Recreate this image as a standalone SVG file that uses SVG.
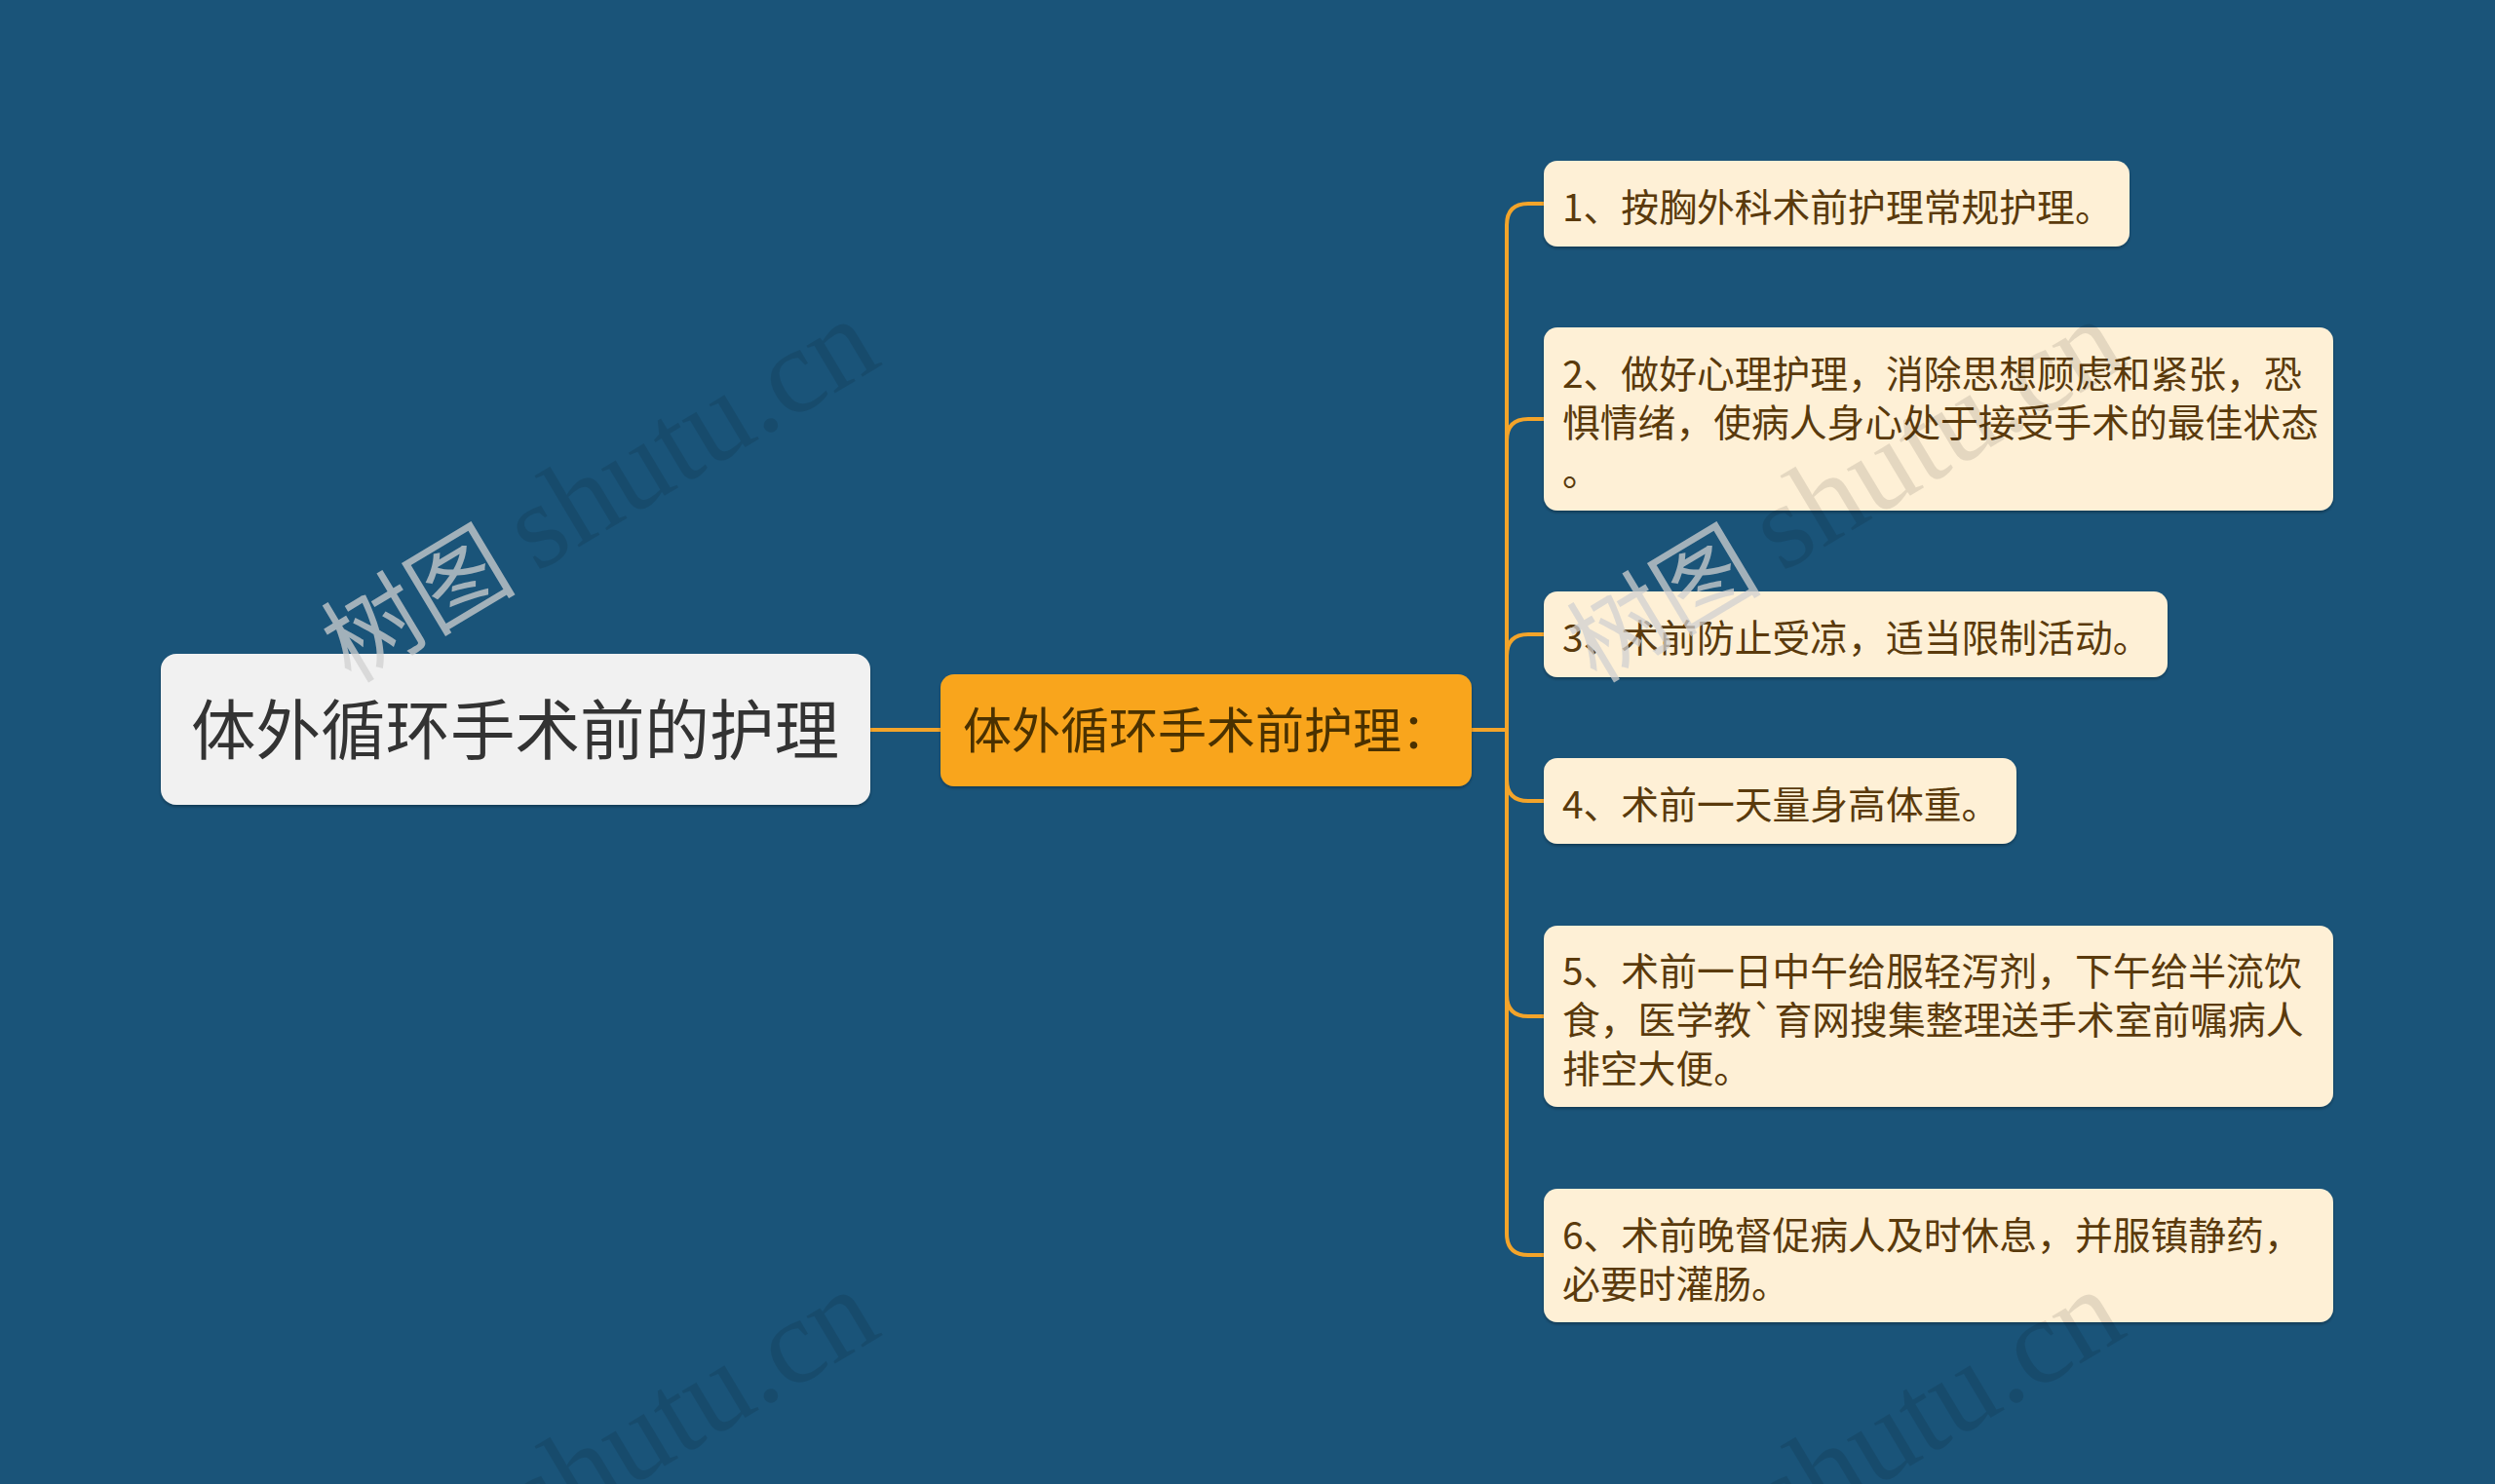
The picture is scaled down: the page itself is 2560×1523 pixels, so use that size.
<svg xmlns="http://www.w3.org/2000/svg" width="2560" height="1523" viewBox="0 0 2560 1523">
<defs>
<style>
.bg{fill:#1A5479}
.conn{fill:none;stroke:#F3A42A;stroke-width:4;stroke-linecap:round}
.root rect{fill:#F1F1F1}
.root text{fill:#333333;font-size:66.5px}
.mid rect{fill:#F9A51C}
.mid text{fill:#4A3100;font-size:50px}
.leaf rect{fill:#FEF0D6}
.leaf text{fill:#5A3A0C;font-size:38.8px}
text{font-family:"Noto Sans CJK SC","Noto Sans",sans-serif}
.wm1{font-family:"Liberation Serif","Noto Sans CJK SC",serif;font-size:124px;fill:#000000;fill-opacity:0.1}
.wm2{font-family:"Liberation Serif","Noto Sans CJK SC",serif;font-size:100px;fill:#D0D0D0;fill-opacity:0.75}
</style>
<filter id="sh" x="-5%" y="-10%" width="110%" height="130%">
<feDropShadow dx="0" dy="2" stdDeviation="1.5" flood-color="#000" flood-opacity="0.3"/>
</filter>
</defs>
<rect class="bg" x="0" y="0" width="2560" height="1523"/>

<g id="connectors">
<path class="conn" d="M893,749 H965"/>
<path class="conn" d="M1510,749 H1546 V231 Q1546,209 1568,209 H1584"/>
<path class="conn" d="M1510,749 H1546 V452 Q1546,430 1568,430 H1584"/>
<path class="conn" d="M1510,749 H1546 V673 Q1546,651 1568,651 H1584"/>
<path class="conn" d="M1510,749 H1546 V800 Q1546,822 1568,822 H1584"/>
<path class="conn" d="M1510,749 H1546 V1021 Q1546,1043 1568,1043 H1584"/>
<path class="conn" d="M1510,749 H1546 V1266 Q1546,1288 1568,1288 H1584"/>
</g>

<g id="root" class="root">
<rect x="165" y="671" width="728" height="155" rx="16" filter="url(#sh)"/>
<text x="196" y="774">体外循环手术前的护理</text>
</g>

<g id="mid" class="mid">
<rect x="965" y="692" width="545" height="115" rx="14" filter="url(#sh)"/>
<text x="988" y="768">体外循环手术前护理：</text>
</g>

<g id="leaf1" class="leaf">
<rect x="1584" y="165" width="601" height="88" rx="14" filter="url(#sh)"/>
<text x="1603" y="227">1、按胸外科术前护理常规护理。</text>
</g>

<g id="leaf2" class="leaf">
<rect x="1584" y="336" width="810" height="188" rx="14" filter="url(#sh)"/>
<text x="1603" y="398">2、做好心理护理，消除思想顾虑和紧张，恐</text>
<text x="1603" y="448">惧情绪，使病人身心处于接受手术的最佳状态</text>
<text x="1603" y="498">。</text>
</g>

<g id="leaf3" class="leaf">
<rect x="1584" y="607" width="640" height="88" rx="14" filter="url(#sh)"/>
<text x="1603" y="669">3、术前防止受凉，适当限制活动。</text>
</g>

<g id="leaf4" class="leaf">
<rect x="1584" y="778" width="485" height="88" rx="14" filter="url(#sh)"/>
<text x="1603" y="840">4、术前一天量身高体重。</text>
</g>

<g id="leaf5" class="leaf">
<rect x="1584" y="950" width="810" height="186" rx="14" filter="url(#sh)"/>
<text x="1603" y="1011">5、术前一日中午给服轻泻剂，下午给半流饮</text>
<text x="1603" y="1061">食，医学教`育网搜集整理送手术室前嘱病人</text>
<text x="1603" y="1111">排空大便。</text>
</g>

<g id="leaf6" class="leaf">
<rect x="1584" y="1220" width="810" height="137" rx="14" filter="url(#sh)"/>
<text x="1603" y="1282">6、术前晚督促病人及时休息，并服镇静药，</text>
<text x="1603" y="1332">必要时灌肠。</text>
</g>

<g id="watermarks">
<text class="wm2" transform="translate(360,702) rotate(-31)">树图</text>
<text class="wm1" transform="translate(360,702) rotate(-31)" x="222">shutu.cn</text>
<text class="wm2" transform="translate(1638,702) rotate(-31)">树图</text>
<text class="wm1" transform="translate(1638,702) rotate(-31)" x="222">shutu.cn</text>
<text class="wm2" transform="translate(360,1698) rotate(-31)">树图</text>
<text class="wm1" transform="translate(360,1698) rotate(-31)" x="222">shutu.cn</text>
<text class="wm2" transform="translate(1638,1698) rotate(-31)">树图</text>
<text class="wm1" transform="translate(1638,1698) rotate(-31)" x="222">shutu.cn</text>
</g>
</svg>
